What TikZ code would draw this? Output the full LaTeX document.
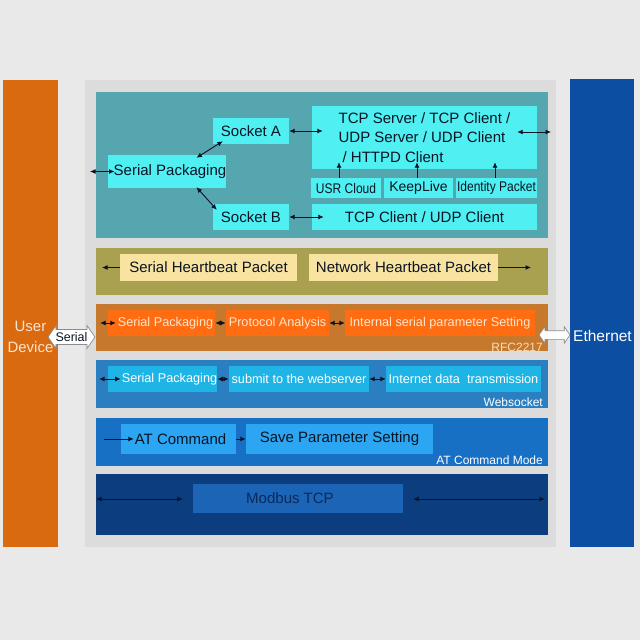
\documentclass[tikz,border=0pt]{standalone}
\usepackage{fontspec}
\setmainfont{Liberation Sans}
\newfontfamily\narrowfont[FakeStretch=0.86]{Liberation Sans}
\usetikzlibrary{positioning,shapes.arrows,arrows.meta}

\definecolor{pagegray}{HTML}{E9E9E9}
\definecolor{centralgray}{HTML}{DCDCDC}
\definecolor{userorange}{HTML}{D96A10}
\definecolor{etherblue}{HTML}{0B4EA2}
\definecolor{tealpanel}{HTML}{56A6AF}
\definecolor{cyanbox}{HTML}{4FEFF2}
\definecolor{olivepanel}{HTML}{A9A150}
\definecolor{paleyellow}{HTML}{F9E3A0}
\definecolor{rustpanel}{HTML}{C6782C}
\definecolor{brightorange}{HTML}{FF6C12}
\definecolor{creamink}{HTML}{FDE6CC}
\definecolor{webpanel}{HTML}{2B7FC1}
\definecolor{skybox}{HTML}{1FB4E6}
\definecolor{atpanel}{HTML}{1870C4}
\definecolor{atbox}{HTML}{2CA6F2}
\definecolor{modpanel}{HTML}{0C3D7F}
\definecolor{modbox}{HTML}{1B64B6}
\definecolor{modink}{HTML}{0A2A5C}
\definecolor{inkdark}{HTML}{0A1424}
\definecolor{userink}{HTML}{FBE4CF}
\definecolor{rfcink}{HTML}{F8DDBB}
\definecolor{arrowgray}{HTML}{8C8C8C}

\tikzset{sz/.style 2 args={minimum width=#1pt, minimum height=#2pt}}

\begin{document}
\begin{tikzpicture}[x=1pt,y=-1pt,
		panelbox/.style={anchor=north west, inner sep=0pt, minimum width=452pt},
		blk/.style={inner sep=0pt, text=inkdark, font=\fontsize{15}{19.5}\selectfont},
		smallblk/.style={blk, font=\fontsize{12.7}{14}\selectfont},
		narrowblk/.style={blk, font=\narrowfont\fontsize{14}{16}\selectfont},
		linkarrow/.style={>={Latex[length=5.5pt,width=5pt]}, line width=0.9pt, inkdark},
		cornerlabel/.style={anchor=east, inner sep=0pt, font=\fontsize{12}{14}\selectfont},
		portarrow/.style={double arrow, draw=arrowgray, fill=white, line width=0.7pt, inner xsep=0.5pt,
			double arrow head extend=4pt, double arrow tip angle=110}
	]
	\fill[pagegray] (0,0) rectangle (640,640);
	% side bars and the grey frame
	\node[panelbox, sz={55}{467}, fill=userorange] (userbar) at (3,80) {};
	\node[panelbox, sz={64}{468}, fill=etherblue] (etherbar) at (570,79) {};
	\node[panelbox, sz={471}{467}, fill=centralgray] (frame) at (85,80) {};
	\node[align=center, text=userink, font=\fontsize{15}{21}\selectfont] (userlbl) at (30.5,336.5) {User\\Device};
	\node[text=white, inner sep=0pt, font=\fontsize{15.5}{18}\selectfont] (etherlbl) at (602.5,336) {Ethernet};
	\foreach \name/\yy/\hh/\col in {sockets/92/146/tealpanel, heart/248/47/olivepanel, rfc/304/47/rustpanel,
		websock/360/48/webpanel, atmode/418/48/atpanel, modbus/474/61/modpanel}
	{\node[panelbox, minimum height=\hh pt, fill=\col] (\name) at (96,\yy) {};}

	% socket mode
	\node[blk, fill=cyanbox, sz={116}{33}] (serialpack) at (167,171.5) {\hspace*{6pt}Serial Packaging};
	\node[blk, fill=cyanbox, sz={76}{26}] (socketa) at (251,131) {Socket A};
	\node[blk, fill=cyanbox, sz={76}{26}] (socketb) at (251,217) {Socket B};
	\node[blk, fill=cyanbox, sz={225}{63}, align=left] (servers) at (424.5,137.5)
		{TCP Server / TCP Client /\\UDP Server / UDP Client\\\hspace{4pt}/ HTTPD Client};
	\node[narrowblk, fill=cyanbox, sz={70}{20}] (usrcloud) at (346,188) {USR Cloud};
	\node[blk, fill=cyanbox, sz={69}{20}, font=\fontsize{14}{16}\selectfont] (keeplive) at (418.5,188) {KeepLive};
	\node[narrowblk, fill=cyanbox, sz={81}{20}] (identity) at (496.5,188) {Identity Packet};
	\node[blk, fill=cyanbox, sz={225}{26}] (clients) at (424.5,217) {TCP Client / UDP Client};
	\coordinate (packin) at (90,171.5);
	\coordinate (serverout) at (551,132);
	\draw[linkarrow, <->, shorten >=-7pt] (packin) -- (serialpack.west);
	\draw[linkarrow, <->] ([shift={(-30,3)}]serialpack.north east) -- ([shift={(10,-3)}]socketa.south west);
	\draw[linkarrow, <->] ([shift={(-30,-1)}]serialpack.south east) -- ([shift={(4,6)}]socketb.north west);
	\draw[linkarrow, <->, shorten >=-11pt] (socketa.east) -- (socketa.east -| servers.west);
	\draw[linkarrow, <->, shorten <=-20pt] (serverout -| servers.east) -- (serverout);
	\draw[linkarrow, <->, shorten >=-12pt] (socketb.east) -- (socketb.east -| clients.west);
	\foreach \src/\dx in {usrcloud/-7, keeplive/-1.5, identity/-1.5}
		\draw[linkarrow, ->, shorten >=-7pt] ([xshift=\dx pt]\src.north) -- ([xshift=\dx pt]\src.north |- servers.south);

	% heartbeat
	\node[blk, fill=paleyellow, sz={177}{27}] (serialbeat) at (208.5,267.5) {Serial Heartbeat Packet};
	\node[blk, fill=paleyellow, sz={189}{27}] (netbeat) at (403.5,267.5) {Network Heartbeat Packet};
	\coordinate (beatleft) at (102,267.5);
	\coordinate (beatright) at (531,267.5);
	\draw[linkarrow, ->] (serialbeat.west) -- (beatleft);
	\draw[linkarrow, ->] (netbeat.east) -- (beatright);

	% RFC2217
	\node[smallblk, fill=brightorange, text=creamink, sz={107}{26}] (rfcpack) at (161.5,323) {\hspace*{8pt}Serial Packaging};
	\node[smallblk, fill=brightorange, text=creamink, sz={103}{26}] (rfcproto) at (277.5,323) {Protocol Analysis};
	\node[smallblk, fill=brightorange, text=creamink, sz={190}{26}] (rfcparam) at (440,323) {Internal serial parameter Setting};
	\node[cornerlabel, text=rfcink] (rfclbl) at (543,347) {RFC2217};
	\coordinate (rfcin) at (100,323);
	\draw[linkarrow, <->, shorten >=-8pt] (rfcin) -- (rfcpack.west);
	\draw[linkarrow, <->] (rfcpack) -- (rfcproto);
	\draw[linkarrow, <->] (rfcproto) -- (rfcparam);

	% websocket
	\node[smallblk, fill=skybox, text=white, sz={107}{26}] (webpack) at (162.5,379) {\hspace*{14pt}Serial Packaging};
	\node[smallblk, fill=skybox, text=white, sz={140}{26}] (websubmit) at (299,379) {submit to the webserver};
	\node[smallblk, fill=skybox, text=white, sz={155}{26}] (webnet) at (463.5,379) {Internet data~ transmission};
	\node[cornerlabel, text=white] (weblbl) at (543,402) {Websocket};
	\coordinate (webin) at (99,379);
	\draw[linkarrow, <->, shorten >=-13pt] (webin) -- (webpack.west);
	\draw[linkarrow, <->] (webpack) -- (websubmit);
	\draw[linkarrow, <->] (websubmit) -- (webnet);

	% AT command mode
	\node[blk, fill=atbox, sz={115}{30}] (atcmd) at (178.5,439) {\hspace*{4pt}AT Command};
	\node[blk, fill=atbox, sz={187}{30}] (saveparam) at (339.5,439) {Save Parameter Setting};
	\node[cornerlabel, text=white] (atlbl) at (543,460) {AT Command Mode};
	\coordinate (atin) at (104,439);
	\draw[linkarrow, ->, shorten >=-13pt] (atin) -- (atcmd.west);
	\draw[linkarrow, ->] (atcmd) -- (saveparam);

	% modbus
	\node[blk, fill=modbox, text=modink, sz={210}{29}] (modtcp) at (298,498.5) {Modbus TCP\hspace*{16pt}};
	\coordinate (modleft) at (96,499);
	\coordinate (modright) at (545,499);
	\draw[linkarrow, <->, shorten >=10pt] (modleft) -- (modleft -| modtcp.west);
	\draw[linkarrow, <->, shorten <=10pt] (modright -| modtcp.east) -- (modright);

	% ports
	\node[portarrow, minimum height=47pt, inner ysep=2.5pt, font=\fontsize{12.5}{14}\selectfont, text=inkdark] (serialport) at (71.5,337) {Serial};
	\node[portarrow, minimum height=31pt, inner sep=0pt] (ethport) at (554.5,335) {\rule{0pt}{8pt}};
\end{tikzpicture}
\end{document}
